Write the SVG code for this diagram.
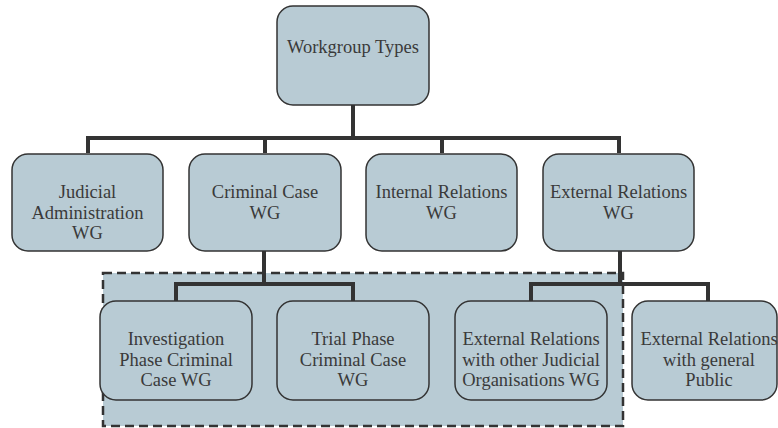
<svg xmlns="http://www.w3.org/2000/svg" width="778" height="428" viewBox="0 0 778 428">
  <style>
    .box { fill: #b8cbd4; stroke: #333333; stroke-width: 1.5; }
    .lbl { font-family: 'Liberation Serif', 'Times New Roman', serif; font-size: 18.5px; fill: #3a3a3a; text-anchor: middle; }
    .wire { fill: none; stroke: #333333; stroke-width: 4; stroke-linejoin: miter; }
    .zone { fill: #b8cbd4; stroke: #333333; stroke-width: 2.5; stroke-dasharray: 9 5; }
  </style>
  <rect width="778" height="428" fill="#ffffff"/>

  <!-- Criminal / judicial sub-area -->
  <g id="subgroup-area">
    <rect class="zone" x="103" y="273" width="520" height="153"/>
  </g>

  <!-- Connectors -->
  <g id="connectors">
    <path class="wire" d="M353 105 V138 M88 153 V138 H619 V153 M265 138 V153 M442 138 V153"/>
    <path class="wire" d="M264 251 V284 M176 301 V284 H353 V301"/>
    <path class="wire" d="M620 251 V284 M531 301 V284 H708 V301"/>
  </g>

  <g id="workgroup-types">
    <rect class="box" x="277" y="6" width="152" height="99" rx="16"/>
    <text class="lbl" x="353" y="53">Workgroup Types</text>
  </g>

  <g id="judicial-administration">
    <rect class="box" x="12" y="154" width="151" height="97" rx="16"/>
    <text class="lbl" x="87.5" y="198">Judicial</text>
    <text class="lbl" x="87.5" y="218.5">Administration</text>
    <text class="lbl" x="87.5" y="239">WG</text>
  </g>

  <g id="criminal-case">
    <rect class="box" x="189" y="154" width="152" height="97" rx="16"/>
    <text class="lbl" x="265" y="198">Criminal Case</text>
    <text class="lbl" x="265" y="219">WG</text>
  </g>

  <g id="internal-relations">
    <rect class="box" x="366" y="154" width="151" height="97" rx="16"/>
    <text class="lbl" x="441.5" y="198">Internal Relations</text>
    <text class="lbl" x="441.5" y="219">WG</text>
  </g>

  <g id="external-relations">
    <rect class="box" x="543" y="154" width="151" height="97" rx="16"/>
    <text class="lbl" x="618.5" y="198">External Relations</text>
    <text class="lbl" x="618.5" y="219">WG</text>
  </g>

  <g id="investigation-phase">
    <rect class="box" x="100" y="301" width="152" height="99" rx="16"/>
    <text class="lbl" x="176" y="345">Investigation</text>
    <text class="lbl" x="176" y="365.5">Phase Criminal</text>
    <text class="lbl" x="176" y="386">Case WG</text>
  </g>

  <g id="trial-phase">
    <rect class="box" x="277" y="301" width="152" height="99" rx="16"/>
    <text class="lbl" x="353" y="345">Trial Phase</text>
    <text class="lbl" x="353" y="365.5">Criminal Case</text>
    <text class="lbl" x="353" y="386">WG</text>
  </g>

  <g id="external-judicial">
    <rect class="box" x="455" y="301" width="152" height="99" rx="16"/>
    <text class="lbl" x="531" y="345">External Relations</text>
    <text class="lbl" x="531" y="365.5">with other Judicial</text>
    <text class="lbl" x="531" y="386">Organisations WG</text>
  </g>

  <g id="external-public">
    <rect class="box" x="632" y="301" width="145" height="99" rx="16"/>
    <text class="lbl" x="709" y="345">External Relations</text>
    <text class="lbl" x="709" y="365.5">with general</text>
    <text class="lbl" x="709" y="386">Public</text>
  </g>
</svg>
